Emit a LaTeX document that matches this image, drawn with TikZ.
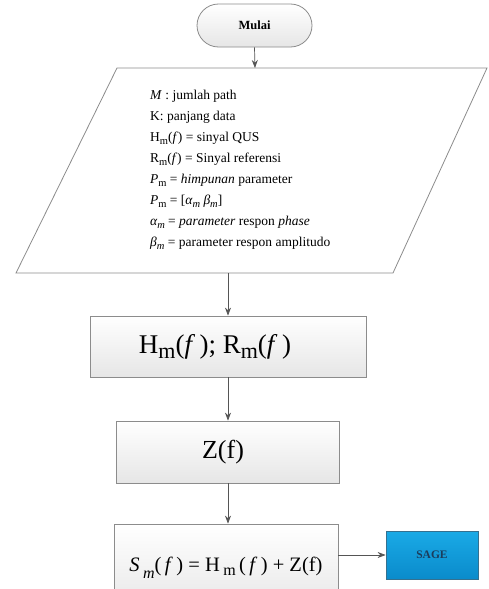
\documentclass[tikz,border=0pt]{standalone}
\usepackage{fontspec}
\setmainfont{Liberation Serif}
\usetikzlibrary{arrows.meta,shapes.misc,calc}
\definecolor{edgegray}{HTML}{8C8C8C}
\definecolor{linegray}{HTML}{555555}
\definecolor{boxbottom}{HTML}{E6E6E6}
\definecolor{sagetop}{HTML}{1AAAE6}
\definecolor{sagebot}{HTML}{0A8BCB}
\definecolor{sageedge}{HTML}{35708F}
\definecolor{sagetext}{HTML}{1B3D5C}
\newcommand{\msub}[1]{\raisebox{-0.4ex}{\fontsize{10.5}{11}\selectfont #1}}
\begin{document}
\begin{tikzpicture}[x=1pt,y=-1pt,
  procbox/.style={rectangle,draw=edgegray,line width=0.8pt,top color=white,bottom color=boxbottom,inner sep=0pt},
  termbox/.style={rounded rectangle,draw=edgegray,line width=0.8pt,top color=white,bottom color=boxbottom,inner sep=0pt,minimum width=115pt,minimum height=43pt,font=\bfseries\fontsize{12.5}{14}\selectfont},
  sagebox/.style={rectangle,draw=sageedge,line width=0.8pt,top color=sagetop,bottom color=sagebot,inner sep=0pt,minimum width=92pt,minimum height=48pt,text=sagetext,font=\bfseries\fontsize{11.5}{13}\selectfont},
  flow/.style={draw=linegray,line width=0.7pt,-{Stealth[length=8pt,width=6pt]}}]
\useasboundingbox (0,0) rectangle (488,589);
\clip (0,0) rectangle (488,589);
\fill[white] (0,0) rectangle (488,589);

% terminator
\node[termbox] (mulai) at (254.5,25.5) {Mulai};

% parallelogram (data)
\coordinate (ptl) at (117,68);
\coordinate (ptr) at (487,68);
\coordinate (pbr) at (393,273);
\coordinate (pbl) at (16,273);
\draw[draw=edgegray,line width=0.8pt,fill=white] (ptl) -- (ptr) -- (pbr) -- (pbl) -- cycle;
\coordinate (ptop) at (255,68);
\coordinate (pbot) at (228,273);
\node[anchor=west,align=left,inner sep=0pt,font=\fontsize{13.5}{21}\selectfont] (defs) at (150,170) {%
\textit{M} : jumlah path\\
K: panjang data\\
H\msub{m}(\textit{f}) = sinyal QUS\\
R\msub{m}(\textit{f}) = Sinyal referensi\\
\textit{P}\msub{m} = \textit{himpunan} parameter\\
\textit{P}\msub{m} = [\textit{α\msub{m} β\msub{m}}]\\
\textit{α\msub{m}} = \textit{parameter} respon \textit{phase}\\
\textit{β\msub{m}} = parameter respon amplitudo};

% process boxes
\node[procbox,minimum width=276pt,minimum height=61pt,font=\fontsize{27}{30}\selectfont] (hr) at (228,346.5)
  {\hbox{H\raisebox{-0.4ex}{\fontsize{22}{24}\selectfont m}(\textit{f}\,); R\raisebox{-0.4ex}{\fontsize{22}{24}\selectfont m}(\textit{f}\,)\kern26pt}};
\node[procbox,minimum width=223pt,minimum height=62pt,font=\fontsize{26}{28}\selectfont] (z) at (228,452) {\hbox{Z(f)\kern10pt}};
\node[procbox,minimum width=224pt,minimum height=90pt,font=\fontsize{20.5}{22}\selectfont] (s) at (226,569)
  {\raisebox{9pt}{\textit{S}\,\raisebox{-0.7ex}{\fontsize{16}{17}\selectfont\textit{m}}(\,\textit{f}\,) = H\,\raisebox{-0.4ex}{\fontsize{16}{17}\selectfont m}\,(\,\textit{f}\,) + Z(f)}};
\node[sagebox] (sage) at (432,555) {SAGE};

% connectors
\draw[flow] (mulai.south) -- (ptop);
\draw[flow] (pbot) -- (pbot |- hr.north);
\draw[flow] (hr.south) -- (z.north);
\draw[flow] (z.south) -- (z.south |- s.north);
\draw[flow] (s.east |- sage.west) -- (sage.west);
\end{tikzpicture}
\end{document}
